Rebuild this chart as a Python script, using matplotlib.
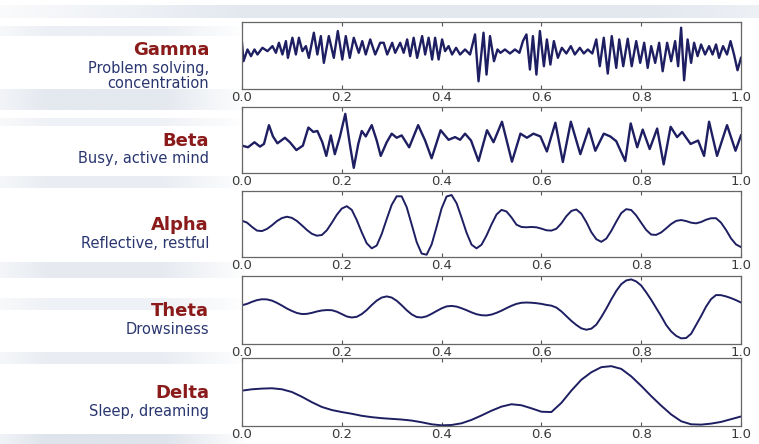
import matplotlib
matplotlib.use("Agg")
import matplotlib.pyplot as plt
from matplotlib.colors import to_rgb
import numpy as np

# brain wave traces (0 = bottom of panel, 1 = top)
gamma_t = [0.0, 0.003, 0.011, 0.018, 0.025, 0.031, 0.041, 0.051, 0.061, 0.068,
           0.074, 0.081, 0.088, 0.092, 0.101, 0.108, 0.114, 0.121, 0.128, 0.134,
           0.144, 0.151, 0.158, 0.164, 0.174, 0.184, 0.192, 0.201, 0.208, 0.216,
           0.224, 0.234, 0.241, 0.248, 0.257, 0.267, 0.277, 0.284, 0.291, 0.301,
           0.307, 0.317, 0.324, 0.331, 0.337, 0.344, 0.351, 0.361, 0.367, 0.374,
           0.381, 0.387, 0.394, 0.401, 0.407, 0.414, 0.421, 0.429, 0.437, 0.447,
           0.457, 0.467, 0.474, 0.484, 0.490, 0.497, 0.505, 0.512, 0.518, 0.527,
           0.537, 0.547, 0.556, 0.563, 0.570, 0.577, 0.583, 0.590, 0.597, 0.605,
           0.611, 0.618, 0.625, 0.633, 0.641, 0.650, 0.659, 0.667, 0.677, 0.685,
           0.693, 0.702, 0.710, 0.717, 0.725, 0.733, 0.741, 0.750, 0.756, 0.764,
           0.773, 0.781, 0.790, 0.798, 0.806, 0.813, 0.820, 0.828, 0.836, 0.843,
           0.852, 0.860, 0.868, 0.874, 0.880, 0.886, 0.893, 0.900, 0.906, 0.913,
           0.920, 0.928, 0.936, 0.943, 0.950, 0.956, 0.964, 0.972, 0.979, 0.986,
           0.993, 1.0]
gamma_v = [0.69, 0.415, 0.59, 0.49, 0.59, 0.515, 0.615, 0.565, 0.64, 0.54,
           0.69, 0.515, 0.715, 0.465, 0.765, 0.515, 0.765, 0.565, 0.64, 0.465,
           0.84, 0.515, 0.79, 0.39, 0.79, 0.465, 0.865, 0.44, 0.79, 0.465,
           0.765, 0.54, 0.715, 0.515, 0.74, 0.515, 0.69, 0.69, 0.515, 0.69,
           0.54, 0.69, 0.54, 0.74, 0.49, 0.765, 0.465, 0.79, 0.515, 0.765,
           0.44, 0.765, 0.44, 0.74, 0.565, 0.64, 0.515, 0.615, 0.515, 0.59,
           0.515, 0.815, 0.115, 0.84, 0.215, 0.79, 0.415, 0.59, 0.54, 0.59,
           0.53, 0.59, 0.54, 0.715, 0.815, 0.29, 0.79, 0.215, 0.865, 0.34,
           0.74, 0.365, 0.715, 0.465, 0.615, 0.53, 0.64, 0.515, 0.615, 0.53,
           0.59, 0.53, 0.74, 0.34, 0.765, 0.23, 0.79, 0.315, 0.74, 0.34,
           0.75, 0.34, 0.715, 0.39, 0.69, 0.315, 0.64, 0.39, 0.69, 0.265,
           0.69, 0.415, 0.715, 0.34, 0.915, 0.13, 0.74, 0.39, 0.69, 0.49,
           0.665, 0.515, 0.64, 0.515, 0.665, 0.465, 0.64, 0.515, 0.715, 0.515,
           0.28, 0.465]

beta_t = [0.0, 0.012, 0.025, 0.036, 0.044, 0.054, 0.062, 0.071, 0.086, 0.096,
          0.109, 0.122, 0.133, 0.143, 0.151, 0.161, 0.169, 0.178, 0.186, 0.196,
          0.207, 0.216, 0.224, 0.233, 0.240, 0.248, 0.260, 0.270, 0.278, 0.290,
          0.300, 0.310, 0.320, 0.335, 0.353, 0.367, 0.380, 0.398, 0.414, 0.427,
          0.437, 0.447, 0.459, 0.474, 0.491, 0.504, 0.521, 0.541, 0.558, 0.571,
          0.584, 0.598, 0.611, 0.628, 0.643, 0.659, 0.678, 0.695, 0.708, 0.725,
          0.738, 0.750, 0.768, 0.779, 0.792, 0.803, 0.817, 0.832, 0.845, 0.859,
          0.872, 0.882, 0.899, 0.914, 0.926, 0.936, 0.952, 0.972, 0.989, 1.0]
beta_v = [0.415, 0.39, 0.466, 0.40, 0.44, 0.725, 0.555, 0.45, 0.534, 0.466,
          0.347, 0.415, 0.689, 0.622, 0.637, 0.466, 0.259, 0.57, 0.285, 0.544,
          0.896, 0.44, 0.078, 0.44, 0.637, 0.554, 0.725, 0.492, 0.259, 0.466,
          0.596, 0.534, 0.57, 0.389, 0.725, 0.492, 0.223, 0.648, 0.503, 0.544,
          0.503, 0.596, 0.492, 0.181, 0.648, 0.466, 0.777, 0.171, 0.596, 0.534,
          0.596, 0.554, 0.326, 0.762, 0.166, 0.777, 0.285, 0.674, 0.337, 0.596,
          0.554, 0.482, 0.181, 0.751, 0.389, 0.658, 0.363, 0.674, 0.13, 0.70,
          0.544, 0.622, 0.44, 0.492, 0.259, 0.777, 0.259, 0.725, 0.337, 0.57]

alpha_t = [i / 100 for i in range(101)]
alpha_v = [0.55, 0.521, 0.456, 0.40, 0.393, 0.425, 0.48, 0.544, 0.59, 0.61,
           0.593, 0.546, 0.48, 0.41, 0.352, 0.323, 0.333, 0.405, 0.518, 0.64,
           0.734, 0.77, 0.714, 0.559, 0.373, 0.207, 0.131, 0.174, 0.349, 0.575,
           0.79, 0.92, 0.919, 0.756, 0.494, 0.227, 0.052, 0.035, 0.19, 0.457,
           0.736, 0.917, 0.939, 0.815, 0.597, 0.368, 0.187, 0.131, 0.186, 0.325,
           0.493, 0.643, 0.714, 0.69, 0.60, 0.49, 0.455, 0.45, 0.455, 0.45,
           0.43, 0.405, 0.40, 0.428, 0.51, 0.618, 0.698, 0.72, 0.656, 0.53,
           0.377, 0.27, 0.23, 0.278, 0.395, 0.535, 0.665, 0.725, 0.712, 0.63,
           0.518, 0.41, 0.34, 0.335, 0.372, 0.434, 0.50, 0.547, 0.56, 0.545,
           0.52, 0.51, 0.53, 0.565, 0.587, 0.588, 0.52, 0.41, 0.282, 0.19,
           0.15]

theta_t = [i / 100 for i in range(101)]
theta_v = [0.57, 0.59, 0.62, 0.645, 0.658, 0.656, 0.638, 0.605, 0.565, 0.522,
           0.486, 0.456, 0.441, 0.443, 0.458, 0.478, 0.493, 0.499, 0.497, 0.475,
           0.44, 0.405, 0.39, 0.40, 0.44, 0.50, 0.573, 0.638, 0.683, 0.70,
           0.683, 0.636, 0.57, 0.497, 0.436, 0.397, 0.39, 0.407, 0.444, 0.485,
           0.524, 0.553, 0.56, 0.55, 0.526, 0.497, 0.465, 0.438, 0.423, 0.42,
           0.433, 0.458, 0.49, 0.527, 0.562, 0.59, 0.606, 0.61, 0.607, 0.60,
           0.59, 0.575, 0.564, 0.536, 0.48, 0.41, 0.34, 0.28, 0.23, 0.21,
           0.225, 0.284, 0.395, 0.52, 0.655, 0.78, 0.88, 0.935, 0.95, 0.92,
           0.86, 0.76, 0.65, 0.53, 0.41, 0.28, 0.185, 0.12, 0.083, 0.088,
           0.15, 0.28, 0.41, 0.55, 0.66, 0.72, 0.718, 0.70, 0.675, 0.645,
           0.61]

delta_t = [i / 50 for i in range(51)]
delta_v = [0.52, 0.54, 0.55, 0.555, 0.54, 0.50, 0.43, 0.35, 0.28, 0.235,
           0.205, 0.18, 0.15, 0.13, 0.115, 0.105, 0.095, 0.08, 0.055, 0.025,
           0.01, 0.015, 0.04, 0.09, 0.155, 0.225, 0.285, 0.32, 0.305, 0.26,
           0.21, 0.205, 0.34, 0.52, 0.68, 0.79, 0.865, 0.88, 0.84, 0.73,
           0.59, 0.44, 0.30, 0.17, 0.07, 0.025, 0.02, 0.035, 0.06, 0.10,
           0.14]

names = ["Gamma", "Beta", "Alpha", "Theta", "Delta"]
captions = ["Problem solving,\nconcentration", "Busy, active mind",
            "Reflective, restful", "Drowsiness", "Sleep, dreaming"]
xticks = [0.0, 0.2, 0.4, 0.6, 0.8, 1.0]

series = [(gamma_t, gamma_v), (beta_t, beta_v), (alpha_t, alpha_v),
          (theta_t, theta_v), (delta_t, delta_v)]

W, H = 759, 444
fig = plt.figure(figsize=(W / 100, H / 100), dpi=100)
fig.patch.set_facecolor("white")

# soft background streaks (decoration only)
bg = fig.add_axes([0, 0, 1, 1], zorder=-5)
bg.set_xlim(0, W)
bg.set_ylim(H, 0)
bg.axis("off")


def streak(x0, x1, y0, y1, color, alpha):
    ramp = np.concatenate([np.linspace(0, 1, 60), np.ones(80),
                           np.linspace(1, 0, 60)])
    img = np.zeros((1, ramp.size, 4))
    img[..., :3] = to_rgb(color)
    img[..., 3] = ramp * alpha
    bg.imshow(img, extent=(x0, x1, y1, y0), aspect="auto",
              interpolation="bilinear")


streak(-60, W + 200, 5, 18, "#cdd6e3", 0.55)
for y0, y1, a in [(26, 36, 0.35), (90, 110, 0.5), (118, 126, 0.3),
                  (176, 188, 0.4), (262, 278, 0.45), (298, 310, 0.3),
                  (352, 364, 0.4), (434, 444, 0.6)]:
    streak(-40, 250, y0, y1, "#c9d2df", a)

# panel boxes in pixels: (top, bottom)
boxes = [(22, 89), (107, 173), (191, 257), (276, 344), (358, 426)]
left_px, right_px = 242, 741

for i, ((t, v), (top, bot)) in enumerate(zip(series, boxes)):
    ax = fig.add_axes([left_px / W, 1 - bot / H, (right_px - left_px) / W,
                       (bot - top) / H])
    ax.plot(t, v, color="#1e1e62", lw=1.7 if i < 2 else 1.4,
            solid_joinstyle="round")
    ax.set_xlim(0, 1)
    ax.set_ylim(0, 1)
    ax.set_yticks([])
    ax.set_xticks(xticks)
    ax.set_xticklabels([f"{x:.1f}" for x in xticks])
    ax.tick_params(axis="x", direction="in", length=3, width=0.8,
                   top=True, labelsize=9.5, pad=1.5, colors="#555555",
                   labelcolor="#3a3a3a")
    for s in ax.spines.values():
        s.set_color("#666666")
        s.set_linewidth(0.9)
    ax.set_facecolor("white")

    # labels on the left
    ymid = (top + bot) / 2
    if i == 0:
        name_y, cap_y = 50, 76
    else:
        name_y, cap_y = ymid + 1, ymid + 19
    fig.text(209 / W, 1 - name_y / H, names[i], ha="right", va="center",
             fontsize=13, fontweight="bold", color="#8b1a1a",
             family="DejaVu Sans")
    fig.text(209 / W, 1 - cap_y / H, captions[i], ha="right", va="center",
             fontsize=10.5, color="#2a3670", family="DejaVu Sans",
             linespacing=1.05)

fig.savefig("out.png", dpi=100)
